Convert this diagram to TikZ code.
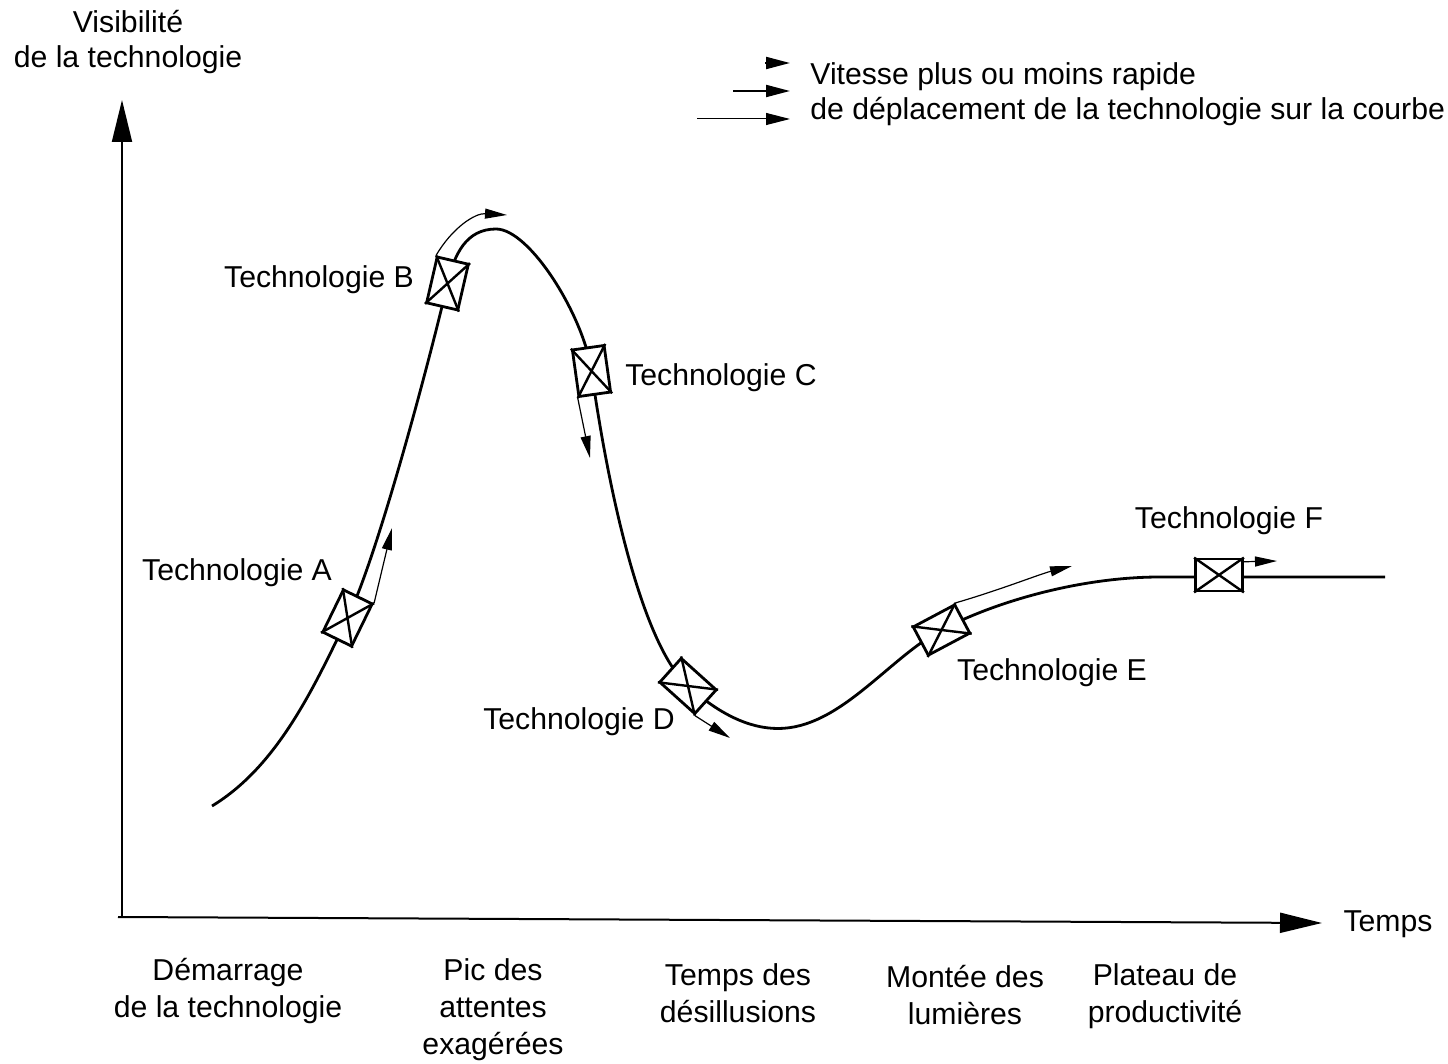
\documentclass[tikz,border=0pt]{standalone}
\usepackage{fontspec}
\setmainfont{Liberation Sans}
\usetikzlibrary{arrows.meta,calc}
\tikzset{
  lbl/.style={font=\fontsize{15.1}{18.5}\selectfont, align=center, inner sep=0pt},
  techbox/.style={draw, fill=white, line width=1.4pt, minimum width=23.5pt,
    minimum height=16pt, inner sep=0pt},
  cross/.style={line width=1.2pt},
  curve/.style={line width=1.4pt},
  axis/.style={line width=1pt, -{Triangle[length=21pt,width=10pt]}},
  motion/.style={line width=0.6pt, -{Triangle[length=11pt,width=5pt]}},
  legthick/.style={line width=1pt, -{Triangle[length=12pt,width=6pt]}},
  legthin/.style={line width=0.5pt, -{Triangle[length=12pt,width=6pt]}},
}
\begin{document}
\begin{tikzpicture}[x=0.5pt,y=-0.5pt]
\useasboundingbox (0,0) rectangle (1448,1064);

% axes
\coordinate (O) at (122,917);
\coordinate (Xs) at (118,917);
\coordinate (Ytip) at (122,100);
\coordinate (Xtip) at (1322,923);
\draw[axis] (O) -- (Ytip);
\draw[axis] (Xs) -- (Xtip);

\node[lbl] (ylab1) at (128,22) {Visibilité};
\node[lbl] (ylab2) at (128,60) {de la technologie};
\node[lbl] (xlab) at (1388,924) {Temps};

% legend
\coordinate (l1s) at (765,63);  \coordinate (l1e) at (790,63);
\coordinate (l2s) at (733,91);  \coordinate (l2e) at (790,91);
\coordinate (l3s) at (697,119); \coordinate (l3e) at (790,119);
\draw[legthick] (l1s) -- (l1e);
\draw[legthick] (l2s) -- (l2e);
\draw[legthin] (l3s) -- (l3e);
\node[lbl, anchor=west] (leg1) at (810,77) {Vitesse plus ou moins rapide};
\node[lbl, anchor=west] (leg2) at (810,112) {de déplacement de la technologie sur la courbe};

% curve
\draw[curve] (212,806)
  .. controls (278,766) and (314,687) .. (347.5,618)
  .. controls (378.2,555.1) and (431.75,351.7) .. (447.5,283.5)
  .. controls (454.3,254.3) and (466,229) .. (496,229)
  .. controls (530,229) and (583.9,316.5) .. (591.5,371)
  .. controls (609.6,499.7) and (643.4,645.9) .. (688,686)
  .. controls (717.7,712.8) and (748,728.5) .. (778,728.5)
  .. controls (840,728.5) and (888.5,658.1) .. (941.5,630)
  .. controls (994.5,601.9) and (1080,577) .. (1160,577)
  -- (1385,577);

% boxes
\node[techbox, rotate=64] (A) at (347.5,618) {};
\node[techbox, rotate=77] (B) at (447.5,283.5) {};
\node[techbox, rotate=-82] (C) at (591.5,371) {};
\node[techbox, rotate=-42] (D) at (688,686) {};
\node[techbox, rotate=28] (E) at (941.5,630) {};
\node[techbox] (F) at (1219,575) {};
\foreach \b in {A,B,C,D,E,F}{
  \draw[cross] (\b.north west) -- (\b.south east) (\b.north east) -- (\b.south west);
}

% motion arrows
\coordinate (aA) at (392,528);
\coordinate (aB) at (507,215);
\coordinate (aC) at (590,458);
\coordinate (aD) at (730,738);
\coordinate (aE) at (1072,566);
\coordinate (aF) at (1277,561);
\draw[motion] (A.south east) -- (aA);
\draw[motion] (B.north east) .. controls (452,228) and (475,213) .. (aB);
\draw[motion] (C.south east) -- (aC);
\draw[motion] (D.south east) -- (aD);
\draw[motion] (E.north east) .. controls (1000,590) and (1040,574) .. (aE);
\draw[motion] ($(F.north east)!0.12!(F.south east)$) -- (aF);

% technology labels
\node[lbl] (tA) at (237,573) {Technologie A};
\node[lbl] (tB) at (319,280) {Technologie B};
\node[lbl] (tC) at (721,378) {Technologie C};
\node[lbl] (tD) at (579,722) {Technologie D};
\node[lbl] (tE) at (1052,673) {Technologie E};
\node[lbl] (tF) at (1229,521) {Technologie F};

% phase labels
\node[lbl] (p1) at (228,991) {Démarrage\\de la technologie};
\node[lbl] (p2) at (493,1010) {Pic des\\attentes\\exagérées};
\node[lbl] (p3) at (738,993) {Temps des\\désillusions};
\node[lbl] (p4) at (965,995) {Montée des\\lumières};
\node[lbl] (p5) at (1165,996) {Plateau de\\productivité};
\end{tikzpicture}
\end{document}
